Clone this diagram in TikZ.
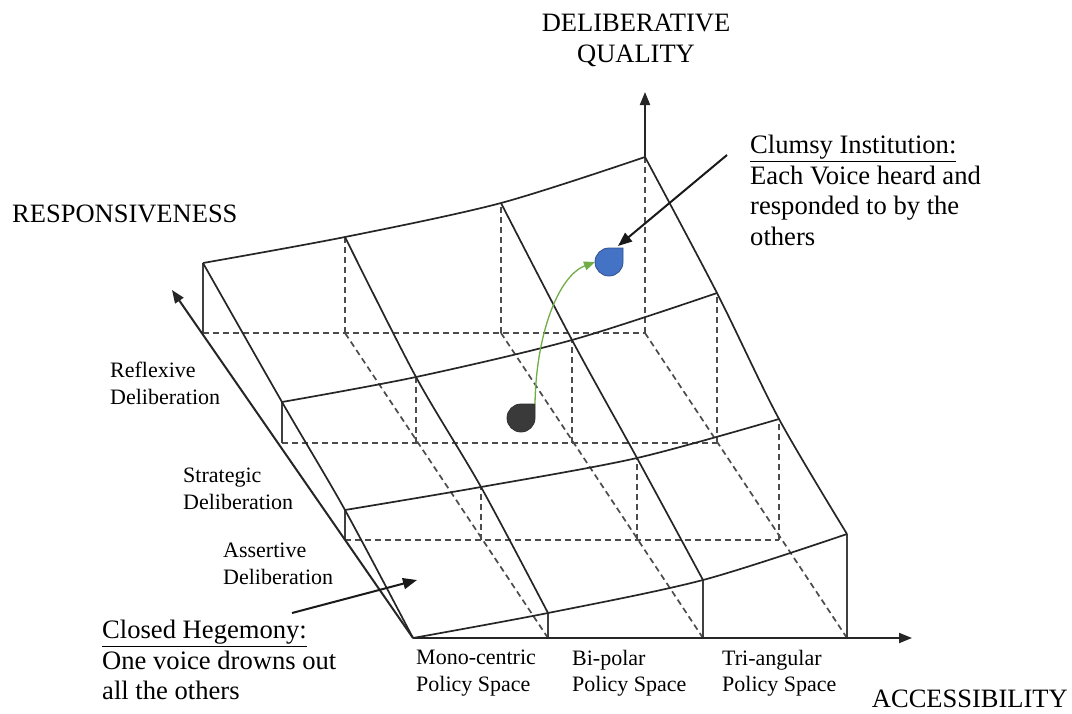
\documentclass[tikz,border=0pt]{standalone}
\usepackage{fontspec}
\setmainfont{Liberation Serif}
\usetikzlibrary{arrows.meta}
\definecolor{dropblue}{HTML}{4472C4}
\definecolor{dropblueedge}{HTML}{2F528F}
\definecolor{dropdark}{HTML}{3A3A3A}
\definecolor{shiftgreen}{HTML}{70AD47}
\newcommand{\AxisFont}{\fontsize{26.5}{31}\selectfont}
\newcommand{\LevelFont}{\fontsize{22}{26.5}\selectfont}
\newcommand{\NoteFont}{\fontsize{26.6}{30.5}\selectfont}

\begin{document}
\begin{tikzpicture}[
    x=1pt, y=-1pt,
    surf/.style={line width=1.7pt, black!85},
    post/.style={line width=1.7pt, black!75},
    hidden/.style={line width=1.7pt, black!70, dash pattern=on 6pt off 4pt},
    axisline/.style={line width=2pt, black!85, -{Triangle[length=13pt, width=10pt]}},
    pointer/.style={line width=2pt, black!90, -{Triangle[length=14pt, width=11pt]}},
    greenshift/.style={line width=1.3pt, shiftgreen, -{Triangle[length=11pt, width=9pt]}},
    level/.style={inner sep=0pt, align=left, anchor=north west, font=\LevelFont},
    note/.style={inner sep=0pt, align=left, anchor=north west, font=\NoteFont},
    axislabel/.style={inner sep=0pt, align=center, font=\AxisFont},
    teardrop/.pic={\path[pic actions] (14,-14) -- (0,-14) arc[start angle=270, end angle=0, radius=14] -- cycle;},
  ]
  \useasboundingbox (0,0) rectangle (1072,713);

  % floor (f) and surface (s) points, column i = accessibility, row j = responsiveness
  \foreach \j/\fy/\xa/\xb/\xc/\xd/\ha/\hb/\hc/\hd in {
      0/638/413/548/703/847/638/613/580/534,
      1/540/345/481/637/779/510/487/458/419,
      2/443/282/416/572/717/402/377/340/293,
      3/333/203/345/501/645/263/237/203/157}{
    \coordinate (f0\j) at (\xa,\fy);
    \coordinate (f1\j) at (\xb,\fy);
    \coordinate (f2\j) at (\xc,\fy);
    \coordinate (f3\j) at (\xd,\fy);
    \coordinate (s0\j) at (\xa,\ha);
    \coordinate (s1\j) at (\xb,\hb);
    \coordinate (s2\j) at (\xc,\hc);
    \coordinate (s3\j) at (\xd,\hd);
  }

  % hidden floor grid and posts
  \foreach \j in {1,2,3}
    \draw[hidden] (f0\j) -- (f3\j);
  \foreach \i in {1,2,3}
    \draw[hidden] (f\i0) -- (f\i3);
  \foreach \i in {1,2,3}
    \foreach \j in {1,2,3}
      \draw[hidden] (f\i\j) -- (s\i\j);

  % visible posts
  \foreach \i in {1,2,3}
    \draw[post] (f\i0) -- (s\i0);
  \foreach \j in {1,2,3}
    \draw[post] (f0\j) -- (s0\j);

  % surface
  \foreach \j in {0,...,3}
    \draw[surf] plot[smooth] coordinates {(s0\j) (s1\j) (s2\j) (s3\j)};
  \foreach \i in {0,...,3}
    \draw[surf] plot[smooth] coordinates {(s\i0) (s\i1) (s\i2) (s\i3)};

  % axes
  \coordinate (acctip) at (912,638);
  \coordinate (restip) at (172,290);
  \coordinate (deltip) at (645,92);
  \draw[axisline] (f00) -- (acctip);
  \draw[axisline] (f00) -- (restip);
  \draw[axisline] (s33) -- (deltip);

  \node[axislabel, anchor=north] (delqual) at (636,14) {DELIBERATIVE\\QUALITY};
  \node[axislabel, anchor=west] (respons) at (12,214) {RESPONSIVENESS};
  \node[axislabel, anchor=east] (access) at (1068,699) {ACCESSIBILITY};

  % deliberation levels
  \node[level] (reflexive) at (110,362) {Reflexive\\Deliberation};
  \node[level] (strategic) at (183,468) {Strategic\\Deliberation};
  \node[level] (assertive) at (223,543) {Assertive\\Deliberation};

  % policy spaces
  \node[level] (mono) at (416,650) {Mono-centric\\Policy Space};
  \node[level] (bipolar) at (572,650) {Bi-polar\\Policy Space};
  \node[level] (triang) at (722,650) {Tri-angular\\Policy Space};

  % positions
  \coordinate (hegemony) at (521,418);
  \coordinate (clumsy) at (609,262);
  \pic[fill=dropdark, draw=dropdark!80!black, line width=0.8pt] at (hegemony) {teardrop};
  \pic[fill=dropblue, draw=dropblueedge, line width=0.8pt] at (clumsy) {teardrop};
  \coordinate (hegtop) at (535,404);
  \coordinate (clumsyleft) at (595,262);
  \draw[greenshift] (hegtop) .. controls (536,335) and (558,276) .. (clumsyleft);

  % notes
  \node[note] (clumsynote) at (750,135) {\underline{Clumsy Institution:}\\Each Voice heard and\\responded to by the\\others};
  \node[note] (hegnote) at (102,620) {\underline{Closed Hegemony:}\\One voice drowns out\\all the others};
  \coordinate (clumsyfrom) at (727,155);
  \coordinate (clumsyto) at (618,246);
  \coordinate (hegfrom) at (292,613);
  \coordinate (hegto) at (417,580);
  \draw[pointer] (clumsyfrom) -- (clumsyto);
  \draw[pointer] (hegfrom) -- (hegto);
\end{tikzpicture}
\end{document}
